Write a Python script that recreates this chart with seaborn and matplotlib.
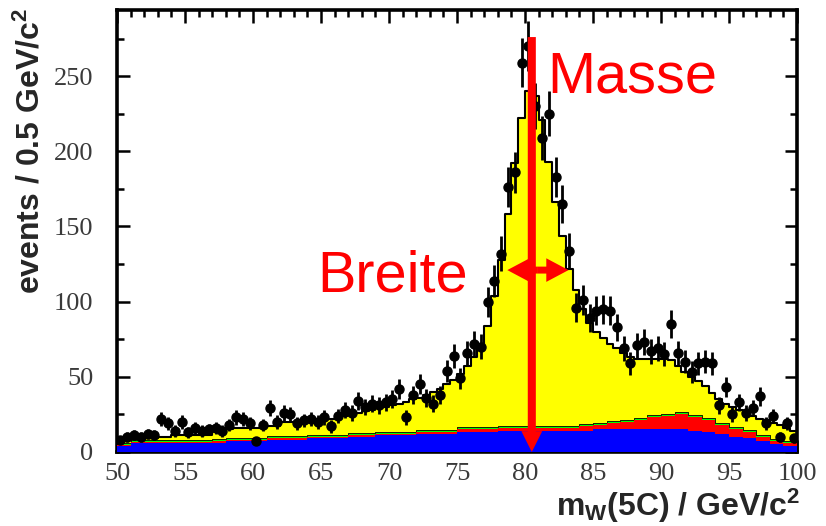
import numpy as np
import pandas as pd
import matplotlib
matplotlib.use("Agg")
import matplotlib.pyplot as plt
import seaborn as sns

# mass range and binning
m_lo, m_hi = 50, 100
fine_width = 0.5      # data / signal MC bins
coarse_width = 1.0    # background MC bins

# total MC (signal + background), 0.5 GeV bins from 50.0 to 99.5
mc_total = [9, 9, 9, 9, 9, 9, 10, 10, 11, 11,
            11, 11, 11, 11, 15, 15, 15, 16, 16, 16,
            16, 17, 17, 17, 20, 20, 20, 21, 21, 21,
            22, 22, 23, 24, 25, 26, 27, 28, 29, 30,
            31, 32, 33, 35, 36, 38, 40, 42, 45, 48,
            52, 57, 63, 72, 84, 104, 128, 158, 192, 222,
            240, 237, 221, 193, 166, 144, 122, 108, 95, 86,
            80, 76, 72, 69, 66, 63, 62, 62, 62, 62,
            62, 61, 57, 53, 50, 47, 44, 39, 35, 32,
            30, 28, 26, 24, 22, 21, 19, 18, 16, 14]

# measured events, 0.5 GeV bins
data_counts = [8, 10, 11, 10, 12, 11, 22, 19, 14, 20,
               13, 16, 14, 15, 16, 14, 18, 23, 22, 19,
               7, 18, 29, 20, 26, 25, 19, 21, 22, 20,
               23, 17, 24, 28, 26, 34, 30, 32, 31, 33,
               35, 42, 23, 38, 45, 36, 32, 38, 54, 64,
               49, 66, 72, 70, 100, 114, 132, 176, 186, 259,
               270, 230, 209, 225, 183, 165, 134, 96, 101, 89,
               94, 95, 94, 83, 69, 59, 71, 73, 67, 69,
               65, 85, 66, 60, 53, 59, 60, 59, 31, 43,
               25, 33, 26, 29, 37, 19, 24, 10, 19, 9]

# background components, 1 GeV bins from 50 to 99
bkg_blue = [4, 6, 6, 6, 6, 6, 6, 6, 7, 7,
            7, 8, 8, 8, 9, 9, 9, 10, 10, 11,
            11, 11, 12, 12, 12, 13, 13, 13, 14, 14,
            14, 14, 14, 14, 14, 15, 15, 15, 15, 15,
            15, 15, 14, 13, 12, 10, 9, 7, 5, 4]
bkg_red = [0.5, 0.5, 0.5, 0.5, 0.5, 0.5, 0.5, 1, 1, 1,
           1, 1, 1, 1, 1, 1, 1, 1, 1, 1,
           1, 1, 1, 1, 1, 2, 2, 2, 2, 2,
           2, 2, 2, 2, 3, 3, 4, 5, 6, 8,
           9, 10, 9, 8, 6, 5, 4, 3, 2, 2]
bkg_green = [1.5] * 50

# fit result annotations
mass_pos = 80.5
width_lo, width_hi = 78.7, 83.2
width_level = 121

cent_f = np.arange(m_lo, m_hi, fine_width) + fine_width / 2
cent_c = np.arange(m_lo, m_hi, coarse_width) + coarse_width / 2

sig = pd.DataFrame({"m": cent_f, "mc": mc_total, "data": data_counts})
bkg = pd.DataFrame({"m": cent_c, "blue": bkg_blue, "red": bkg_red, "green": bkg_green})
bkg["red_top"] = bkg["blue"] + bkg["red"]
bkg["green_top"] = bkg["red_top"] + bkg["green"]

sns.set_style("ticks")
plt.rcParams["font.family"] = ["Liberation Sans", "DejaVu Sans"]
plt.rcParams["mathtext.fontset"] = "custom"
plt.rcParams["mathtext.bf"] = "Liberation Sans:bold"
plt.rcParams["mathtext.rm"] = "Liberation Sans:bold"
plt.rcParams["mathtext.default"] = "bf"

fig = plt.figure(figsize=(8.26, 5.26), dpi=100)
ax = fig.add_axes([117 / 826, 74 / 526, 680 / 826, 442 / 526])

# stacked MC
hist_kw = dict(element="step", fill=True, alpha=1, ax=ax, binrange=(m_lo, m_hi))
sns.histplot(data=sig, x="m", weights="mc", binwidth=fine_width, color="#ffff00",
             edgecolor="black", linewidth=1.5, zorder=1, **hist_kw)
sns.histplot(data=bkg, x="m", weights="green_top", binwidth=coarse_width, color="#00ff00",
             edgecolor="black", linewidth=0.6, zorder=2, **hist_kw)
sns.histplot(data=bkg, x="m", weights="red_top", binwidth=coarse_width, color="#ff0000",
             linewidth=0, zorder=3, **hist_kw)
sns.histplot(data=bkg, x="m", weights="blue", binwidth=coarse_width, color="#0000ff",
             linewidth=0, zorder=4, **hist_kw)

# data points
ax.errorbar(sig["m"], sig["data"], yerr=np.sqrt(sig["data"]), xerr=fine_width / 2,
            fmt="o", color="black", ms=6.5, elinewidth=2, capsize=0, zorder=5)

# mass arrow
ax.annotate("", xy=(mass_pos, 0), xytext=(mass_pos, 276),
            arrowprops=dict(arrowstyle="simple,head_length=15,head_width=15,tail_width=5.8",
                            color="#ff0000", lw=0, shrinkA=0, shrinkB=0, mutation_scale=1),
            annotation_clip=False, zorder=6)
# width double arrow
mid = (width_lo + width_hi) / 2
for end in (width_lo, width_hi):
    ax.annotate("", xy=(end, width_level), xytext=(mid, width_level),
                arrowprops=dict(arrowstyle="simple,head_length=16,head_width=17,tail_width=5",
                                color="#ff0000", lw=0, shrinkA=0, shrinkB=0, mutation_scale=1),
                zorder=6)

ax.text(81.6, 239, "Masse", color="#ff0000", fontsize=41.5, va="baseline", ha="left", zorder=7)
ax.text(64.7, 107, "Breite", color="#ff0000", fontsize=41.5, va="baseline", ha="left", zorder=7)

ax.set_xlim(m_lo, m_hi)
ax.set_ylim(0, 294)
ax.set_xticks(np.arange(50, 101, 5))
ax.set_xticks(np.arange(50, 101, 1), minor=True)
ax.set_yticks(np.arange(0, 251, 50))
ax.set_yticks(np.arange(0, 290, 25), minor=True)
ax.tick_params(which="both", direction="in", top=True, right=True, width=1.8, color="black")
ax.tick_params(which="major", length=9)
ax.tick_params(which="minor", length=5)
for lab in ax.get_xticklabels() + ax.get_yticklabels():
    lab.set_fontfamily("Liberation Serif")
    lab.set_fontsize(19)
    lab.set_color("#3a3a3a")
ax.tick_params(axis="x", pad=8)
ax.tick_params(axis="y", pad=17)
for s in ax.spines.values():
    s.set_linewidth(2.6)
    s.set_color("black")
ax.set_xlabel("")
ax.set_ylabel("")

fig.text(31 / 826, 1 - 8 / 526, "events / 0.5 GeV/c$^{2}$", rotation=90, ha="center", va="top",
         fontsize=23, fontweight="bold")
fig.text(800 / 826, 1 - 525 / 526, "m$_{W}$(5C) / GeV/c$^{2}$", ha="right", va="bottom",
         fontsize=23, fontweight="bold")

fig.savefig("out.png", dpi=100)
